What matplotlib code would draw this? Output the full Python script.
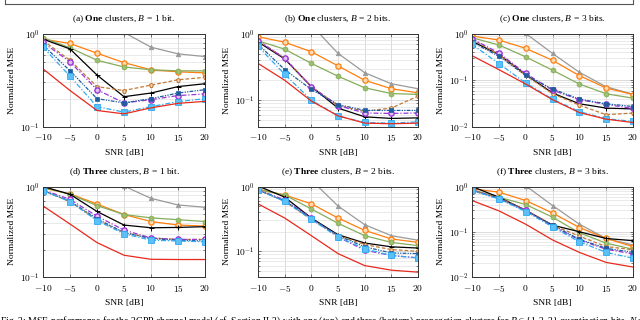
import math
import matplotlib
matplotlib.use("Agg")
import matplotlib.pyplot as plt
from matplotlib.lines import Line2D
from matplotlib.ticker import FixedLocator, FixedFormatter, LogLocator, NullFormatter

plt.rcParams['font.family'] = ['Liberation Serif', 'DejaVu Serif']
plt.rcParams['mathtext.fontset'] = 'cm'
plt.rcParams['mathtext.rm'] = 'Liberation Serif'
plt.rcParams['mathtext.it'] = 'Liberation Serif:italic'
plt.rcParams['mathtext.bf'] = 'Liberation Serif:bold'

snr = [-10, -5, 0, 5, 10, 15, 20]
panel_letters = ["a", "b", "c", "d", "e", "f"]
cluster_words = ["One", "One", "One", "Three", "Three", "Three"]
bits = [1, 2, 3, 1, 2, 3]
y_lower = [0.1, 0.04, 0.01, 0.1, 0.04, 0.01]

gray = [
    [2.0, 1.6, 1.25, 1.04, 0.72, 0.61, 0.57],
    [3.5, 2.4, 1.37, 0.51, 0.26, 0.177, 0.149],
    [3.0, 1.8, 1.03, 0.38, 0.149, 0.072, 0.050],
    [2.0, 1.7, 1.4, 1.01, 0.74, 0.625, 0.59],
    [3.0, 2.0, 1.26, 0.50, 0.257, 0.174, 0.148],
    [3.0, 1.8, 1.04, 0.38, 0.147, 0.071, 0.051],
]
orange = [
    [0.88, 0.79, 0.62, 0.49, 0.41, 0.39, 0.38],
    [0.91, 0.75, 0.54, 0.33, 0.20, 0.149, 0.129],
    [0.905, 0.74, 0.49, 0.27, 0.126, 0.068, 0.049],
    [0.96, 0.83, 0.64, 0.49, 0.41, 0.375, 0.365],
    [0.91, 0.74, 0.54, 0.326, 0.21, 0.155, 0.137],
    [0.89, 0.75, 0.49, 0.26, 0.124, 0.071, 0.047],
]
green = [
    [0.91, 0.71, 0.52, 0.44, 0.41, 0.40, 0.40],
    [0.79, 0.59, 0.36, 0.23, 0.154, 0.126, 0.122],
    [0.83, 0.58, 0.32, 0.165, 0.083, 0.051, 0.041],
    [0.98, 0.82, 0.615, 0.49, 0.45, 0.43, 0.41],
    [0.89, 0.74, 0.45, 0.27, 0.174, 0.137, 0.122],
    [0.85, 0.58, 0.40, 0.21, 0.095, 0.056, 0.041],
]
black = [
    [0.88, 0.69, 0.36, 0.21, 0.23, 0.27, 0.29],
    [0.76, 0.42, 0.16, 0.076, 0.056, 0.053, 0.054],
    [0.70, 0.36, 0.133, 0.053, 0.031, 0.025, 0.024],
    [1.0, 0.82, 0.53, 0.375, 0.35, 0.353, 0.36],
    [1.02, 0.685, 0.326, 0.18, 0.134, 0.117, 0.112],
    [1.0, 0.58, 0.30, 0.14, 0.10, 0.071, 0.0635],
]
brown = [
    [0.85, 0.52, 0.27, 0.245, 0.28, 0.32, 0.34],
    [0.80, 0.43, 0.16, 0.083, 0.068, 0.076, 0.115],
    [0.77, 0.36, 0.127, 0.051, 0.029, 0.018, 0.0195],
    [0.90, 0.68, 0.43, 0.31, 0.27, 0.26, 0.26],
    [0.89, 0.59, 0.31, 0.174, 0.127, 0.106, 0.10],
    [0.82, 0.56, 0.30, 0.14, 0.080, 0.047, 0.040],
]
purple = [
    [0.81, 0.50, 0.25, 0.18, 0.195, 0.216, 0.225],
    [0.79, 0.43, 0.16, 0.083, 0.064, 0.063, 0.064],
    [0.79, 0.39, 0.14, 0.061, 0.038, 0.030, 0.0246],
    [0.92, 0.72, 0.47, 0.33, 0.27, 0.26, 0.26],
    [0.89, 0.62, 0.326, 0.166, 0.104, 0.086, 0.079],
    [0.85, 0.54, 0.30, 0.133, 0.066, 0.041, 0.0324],
]
darkblue = [
    [0.76, 0.40, 0.20, 0.18, 0.20, 0.23, 0.25],
    [0.70, 0.29, 0.145, 0.086, 0.070, 0.070, 0.070],
    [0.67, 0.33, 0.127, 0.065, 0.039, 0.031, 0.027],
    [0.90, 0.69, 0.44, 0.31, 0.265, 0.255, 0.25],
    [0.88, 0.60, 0.32, 0.174, 0.117, 0.094, 0.092],
    [0.82, 0.54, 0.29, 0.14, 0.068, 0.043, 0.035],
]
lightblue = [
    [0.72, 0.35, 0.164, 0.143, 0.164, 0.186, 0.20],
    [0.65, 0.246, 0.10, 0.058, 0.046, 0.045, 0.047],
    [0.60, 0.23, 0.0875, 0.039, 0.021, 0.0147, 0.0129],
    [0.90, 0.68, 0.42, 0.30, 0.255, 0.25, 0.245],
    [0.88, 0.59, 0.31, 0.166, 0.109, 0.086, 0.079],
    [0.82, 0.53, 0.28, 0.128, 0.060, 0.035, 0.026],
]
red = [
    [0.42, 0.245, 0.149, 0.137, 0.159, 0.178, 0.187],
    [0.36, 0.20, 0.097, 0.058, 0.045, 0.044, 0.045],
    [0.34, 0.17, 0.083, 0.038, 0.020, 0.0144, 0.0122],
    [0.61, 0.385, 0.24, 0.174, 0.157, 0.156, 0.156],
    [0.54, 0.326, 0.174, 0.092, 0.060, 0.051, 0.0475],
    [0.49, 0.29, 0.147, 0.066, 0.035, 0.021, 0.0166],
]

styles = [
    (gray,      dict(color='#9a9a9a', ls='-', marker='^', ms=3.2, mfc='#9a9a9a', mew=0.6)),
    (orange,    dict(color='#ff7f0e', ls='-', marker='o', ms=3.8, mfc='#ffd9b0', mew=0.9)),
    (green,     dict(color='#86ad5a', ls='-', marker='h', ms=3.8, mfc='#9cc070', mew=0.6)),
    (black,     dict(color='black',   ls='-', marker='+', ms=3.6, mew=0.7)),
    (brown,     dict(color='#c07a38', ls=(0, (3, 1.6)), marker='p', ms=3.6, mfc='#f0d8b8', mew=0.8)),
    (purple,    dict(color='#9a35d6', ls=(0, (4, 1.5, 1, 1.5)), marker='o', ms=3.8, mfc='#e0c0f4', mew=1.0)),
    (darkblue,  dict(color='#1f5d9e', ls=(0, (3, 1, 1, 1, 1, 1)), marker='s', ms=2.6, mfc='#1f5d9e', mew=0.5)),
    (lightblue, dict(color='#30aaf0', ls=(0, (4, 1.5, 1, 1.5)), marker='s', ms=4.0, mfc='#5cc0f8', mew=0.6)),
    (red,       dict(color='#e8291c', ls='-', marker=None)),
]

W, H = 640.0, 320.0
fig = plt.figure(figsize=(6.4, 3.2), dpi=100)

cols = [(43, 205), (258, 418), (472, 633)]
rows = [(34, 126.5), (186.5, 277)]

tick_fs = 6.8
for i in range(6):
    r, c = divmod(i, 3)
    l, rr = cols[c]
    t, b = rows[r]
    ax = fig.add_axes([l / W, 1 - b / H, (rr - l) / W, (b - t) / H])
    ax.set_yscale('log')
    for data, st in styles:
        ax.plot(snr, data[i], lw=0.9, clip_on=True, **st)
    ax.set_xlim(-10, 20)
    ax.set_ylim(y_lower[i], 1.0)
    ax.xaxis.set_major_locator(FixedLocator(snr))
    ax.xaxis.set_major_formatter(FixedFormatter([r"$%d$" % v if v >= 0 else r"$-%d$" % (-v) for v in snr]))
    majors = [m for m in [1.0, 0.1, 0.01] if m >= y_lower[i] - 1e-12]
    ax.yaxis.set_major_locator(FixedLocator(majors))
    ax.yaxis.set_major_formatter(FixedFormatter([r"$10^{%d}$" % round(math.log10(m)) for m in majors]))
    ax.yaxis.set_minor_locator(LogLocator(base=10, subs=range(2, 10)))
    ax.yaxis.set_minor_formatter(NullFormatter())
    ax.grid(True, which='major', color='#d4d4d4', lw=0.6)
    ax.grid(True, which='minor', axis='y', color='#e2e2e2', lw=0.5)
    ax.set_axisbelow(True)
    ax.tick_params(which='both', direction='in', top=True, right=True, labelsize=tick_fs, width=0.5, color='#444444')
    ax.tick_params(axis='x', pad=4)
    ax.tick_params(axis='y', pad=2)
    ax.tick_params(which='major', length=2.5)
    ax.tick_params(which='minor', length=1.5)
    for s in ax.spines.values():
        s.set_linewidth(0.7)
        s.set_color('#333333')
    ax.set_xlabel("SNR [dB]", fontsize=6.8, labelpad=4)
    ax.set_ylabel("Normalized MSE", fontsize=6.8, labelpad=3)
    unit = "bit" if bits[i] == 1 else "bits"
    title = r"(%s) $\mathbf{%s}$ clusters, $B\,=\,%d$ %s." % (panel_letters[i], cluster_words[i], bits[i], unit)
    ax.set_title(title, fontsize=6.8, pad=9, math_fontfamily='custom')

# Partial legend box at top
lc = '#555555'
fig.add_artist(Line2D([5 / W, 633 / W], [1 - 4 / H, 1 - 4 / H], transform=fig.transFigure, color=lc, lw=0.8))
fig.add_artist(Line2D([5 / W, 5 / W], [1 - 4 / H, 1.0], transform=fig.transFigure, color=lc, lw=0.8))
fig.add_artist(Line2D([633 / W, 633 / W], [1 - 4 / H, 1.0], transform=fig.transFigure, color=lc, lw=0.8))

caption = (r"Fig. 3: MSE performance for the 3GPP channel model (cf. Section II-3) with one (top) and three "
           r"(bottom) propagation clusters for $B \in \{1, 2, 3\}$ quantization bits, $N = 64$")
fig.text(0.0, 1 - 314 / H, caption, fontsize=7.0, va='top', ha='left', math_fontfamily='custom')

fig.savefig("out.png", dpi=100)
